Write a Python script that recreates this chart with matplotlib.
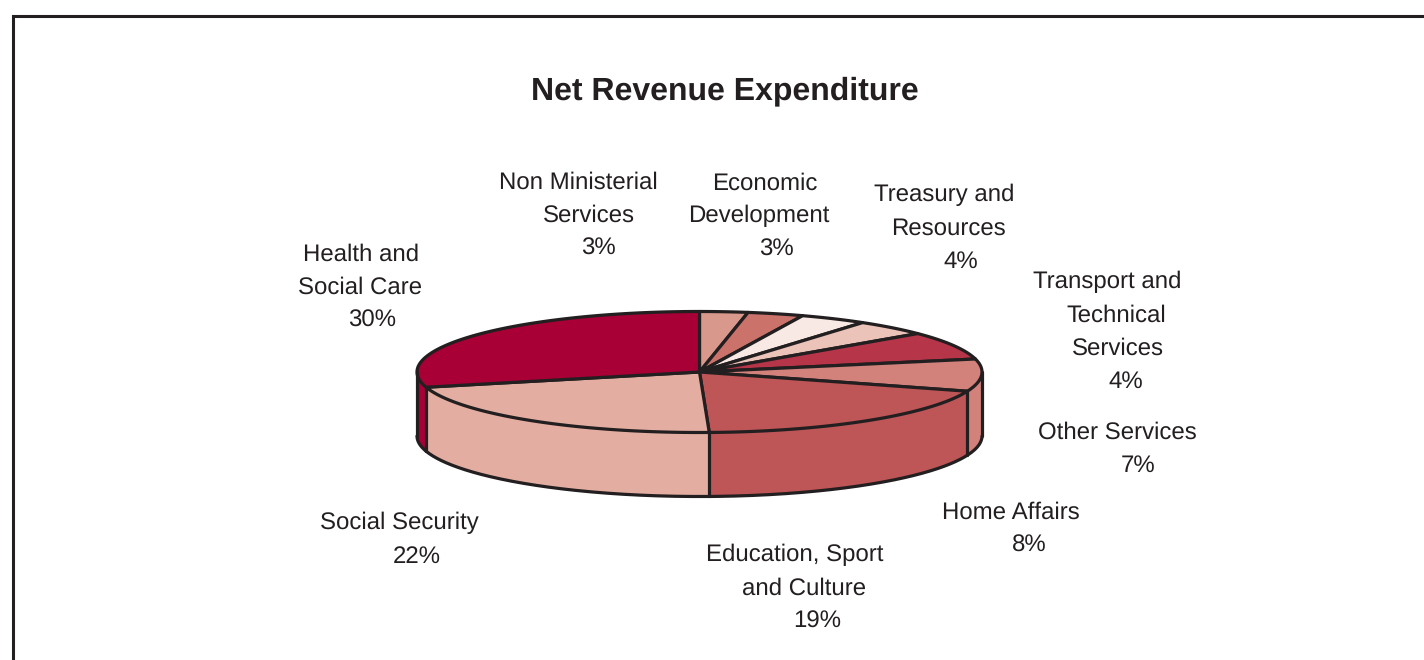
import numpy as np
import matplotlib
matplotlib.use("Agg")
import matplotlib.pyplot as plt

title = "Net Revenue Expenditure"
names = ["Non Ministerial\nServices", "Economic\nDevelopment", "Treasury and\nResources",
         "Transport and\nTechnical\nServices", "Other Services", "Home Affairs",
         "Education, Sport\nand Culture", "Social Security", "Health and\nSocial Care"]
printed_pct = [3, 3, 4, 4, 7, 8, 19, 22, 30]
shares = [2.75, 3.2, 3.85, 4.25, 7.5, 8.6, 19.3, 21.5, 29.05]
colors = ["#D9988C", "#CB736A", "#F9E9E4", "#EBC3B8", "#B73549",
          "#D2827B", "#BE5557", "#E3AEA1", "#A80036"]

# layout, in pixels
INK = "#231F20"
CX, CY, RX, RY, DEPTH = 699.5, 372.0, 282.5, 60.5, 64.0
LW = 2.3
label_centres = [[578, 589, 598], [765, 759, 776], [944, 948, 961], [1107, 1116, 1118, 1126],
                 [1117, 1138], [1011, 1029], [795, 804, 817], [399, 417], [361, 360, 372]]
label_baselines = [188.4, 189.4, 201.4, 288.4, 438.4, 518.4, 561.4, 529.4, 260.4]
LINE = 33

plt.rcParams["font.family"] = ["Liberation Sans", "DejaVu Sans"]
plt.rcParams["text.hinting"] = "no_hinting"
plt.rcParams["text.hinting_factor"] = 1
fig = plt.figure(figsize=(14.24, 6.6), dpi=100)
ax = fig.add_axes([0, 0, 1, 1])
ax.set_xlim(0, 1424)
ax.set_ylim(660, 0)
ax.axis("off")


def rim(t, drop=0.0):
    t = np.radians(t)
    return CX + RX * np.sin(t), CY - RY * np.cos(t) + drop


edges = np.concatenate([[0], np.cumsum(shares)]) / np.sum(shares) * 360

# side walls (only the front half, 90..270 degrees, can be seen)
for a, b, c in zip(edges[:-1], edges[1:], colors):
    lo, hi = max(a, 90), min(b, 270)
    if lo >= hi:
        continue
    t = np.linspace(lo, hi, 200)
    x, y = rim(t)
    ax.fill(np.r_[x, x[::-1]], np.r_[y, y[::-1] + DEPTH], fc=c, ec="none", zorder=2)
    ax.plot(x, y + DEPTH, color=INK, lw=LW, zorder=4, solid_capstyle="round")
for e in np.r_[edges[(edges > 90) & (edges < 270)], 90, 270]:
    x, y = rim(e)
    ax.plot([x, x], [y, y + DEPTH], color=INK, lw=LW, zorder=4, solid_capstyle="round")

# top face
for a, b, c in zip(edges[:-1], edges[1:], colors):
    t = np.linspace(a, b, 200)
    x, y = rim(t)
    ax.fill(np.r_[CX, x], np.r_[CY, y], fc=c, ec=INK, lw=LW, joinstyle="round", zorder=3)

# labels
for name, pct, centres, base in zip(names, printed_pct, label_centres, label_baselines):
    for i, (line, xc) in enumerate(zip(name.split("\n") + [f"{pct}%"], centres)):
        ax.text(xc, base + i * LINE, line, ha="center", va="baseline",
                fontsize=17.3, color=INK)

ax.text(725, 99.4, title, ha="center", va="baseline", fontsize=22.9,
        fontweight="bold", color=INK)

# frame, open on the right and at the bottom
ax.plot([12.5, 12.5, 1424], [660, 15.5, 15.5], color=INK, lw=2.2,
        solid_joinstyle="miter", clip_on=False)

fig.savefig("out.png", dpi=100)
